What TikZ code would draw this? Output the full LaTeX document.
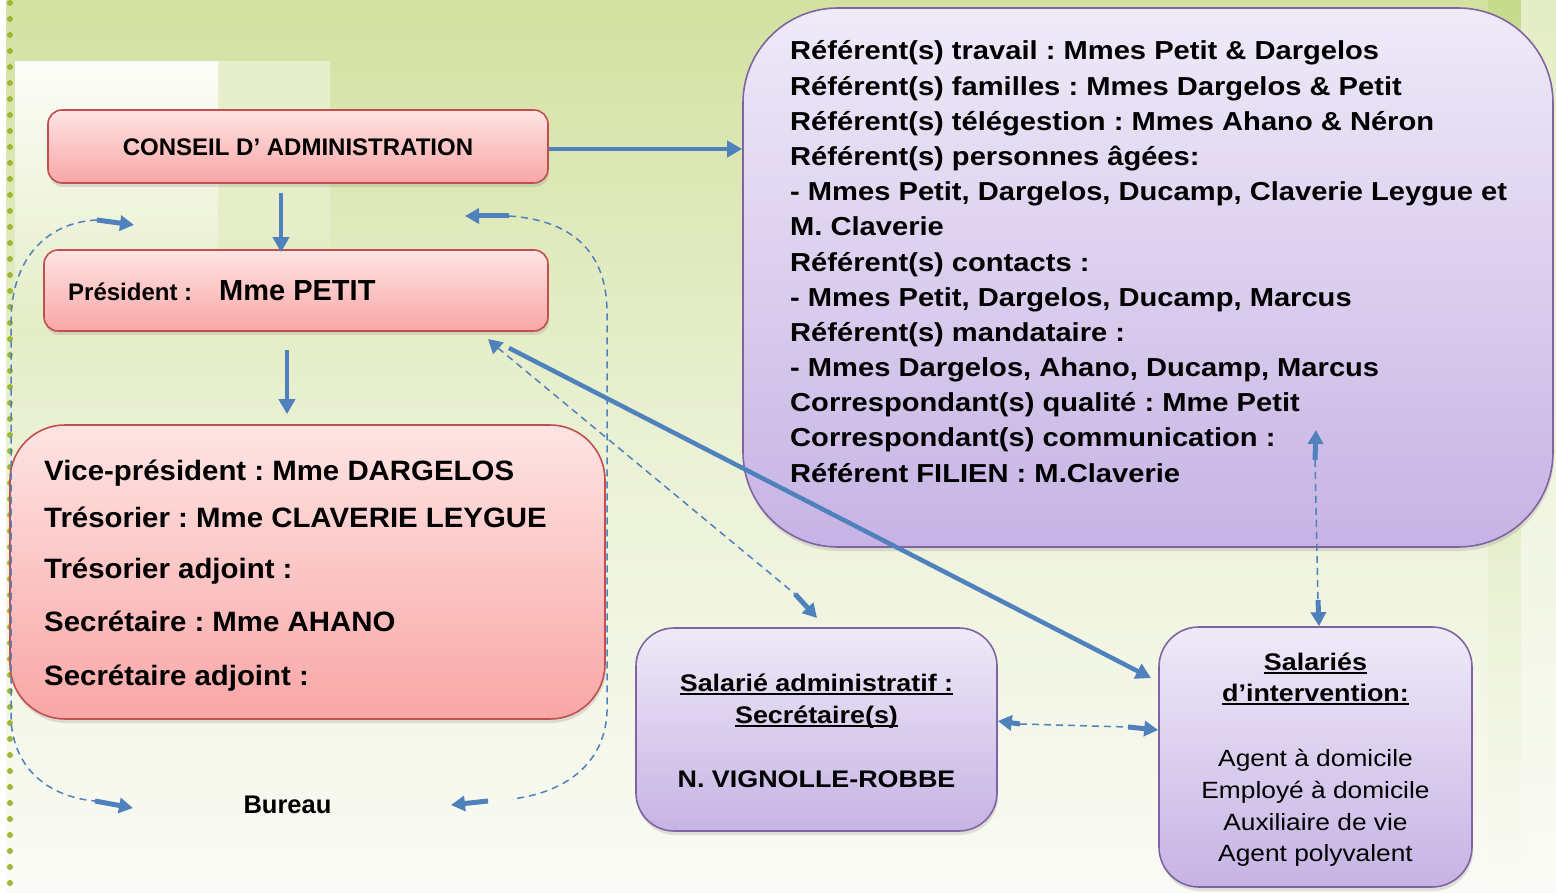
\documentclass[tikz,border=0pt]{standalone}
\usepackage{fontspec}
\setmainfont{Liberation Sans}
\newfontfamily\wsf[FakeStretch=1.12]{Liberation Sans}
\newfontfamily\nsf[FakeStretch=1.05]{Liberation Sans}
\frenchspacing
\usetikzlibrary{arrows.meta,shadows}
\definecolor{bgtop}{HTML}{D3E1A1}
\definecolor{bgmid}{HTML}{EBF1D5}
\definecolor{bgbot}{HTML}{FAFBF6}
\definecolor{bandgreen}{HTML}{C6DA8C}
\definecolor{pinktop}{HTML}{FEE4E4}
\definecolor{pinkbot}{HTML}{F9A6A6}
\definecolor{pinkline}{HTML}{C0504D}
\definecolor{purtop}{HTML}{EFEAF8}
\definecolor{purbot}{HTML}{C6B3E4}
\definecolor{purline}{HTML}{8064A2}
\definecolor{arrowblue}{HTML}{4F81BD}
\definecolor{dotgreen}{HTML}{9BB935}
\newcommand\myul[1]{\setbox0\hbox{#1}\rlap{\rule[-3.5pt]{\wd0}{1.8pt}}\box0}
\begin{document}
\begin{tikzpicture}[x=1pt,y=-1pt,
  pinkbox/.style={draw=pinkline, line width=1.6pt, top color=pinktop, bottom color=pinkbot,
    drop shadow={shadow xshift=1pt, shadow yshift=-4pt, opacity=0.22}, inner sep=0pt},
  purbox/.style={draw=purline, line width=1.6pt, top color=purtop, bottom color=purbot,
    drop shadow={shadow xshift=1pt, shadow yshift=-4pt, opacity=0.22}, inner sep=0pt},
  txt/.style={inner sep=0pt, font=\bfseries},
  solidarr/.style={draw=arrowblue, line width=4.5pt, -{Triangle[length=15pt,width=16pt]}},
  dashline/.style={draw=arrowblue, line width=1.5pt, dash pattern=on 7pt off 5pt},
  tipshaft/.style={draw=arrowblue, line width=5pt, -{Triangle[length=14pt,width=15pt]}}
]
\useasboundingbox (0,0) rectangle (1556,893);
% background
\colorlet{bgat}{bgmid!73!bgtop}
\shade[top color=bgtop, bottom color=bgmid] (0,0) rectangle (1556,450);
\shade[top color=bgmid, bottom color=bgbot] (0,450) rectangle (1556,893);
\shade[top color=bgtop!55!white, bottom color=bgat] (218,62) rectangle (330,330);
\shade[top color=white!92!bgtop, bottom color=bgat] (15,62) rectangle (218,330);
\shade[top color=bandgreen, bottom color=bgmid] (1488,0) rectangle (1521,600);
\shade[top color=bgmid, bottom color=bgbot] (1488,600) rectangle (1521,893);
\shade[top color=bgtop!60!white, bottom color=bgbot] (1521,0) rectangle (1556,893);
\fill[white] (0,0) rectangle (6,893);
\foreach \k in {0,...,55} \fill[dotgreen] (10,3+16*\k) circle (3pt);

% boxes
\node[pinkbox, rounded corners=14pt, minimum width=500pt, minimum height=73pt] (conseil) at (298,146.5) {};
\node[pinkbox, rounded corners=14pt, minimum width=504pt, minimum height=81pt] (pres) at (296,290.5) {};
\node[pinkbox, rounded corners=55pt, minimum width=595pt, minimum height=294pt] (bureau) at (307.5,572) {};
\node[purbox, rounded corners=95pt, minimum width=810pt, minimum height=539pt] (refbox) at (1148,277.5) {};
\node[purbox, rounded corners=38pt, minimum width=361pt, minimum height=203pt] (admin) at (816.5,729.5) {};
\node[purbox, rounded corners=40pt, minimum width=313pt, minimum height=260pt] (interv) at (1315.5,757) {};

% texts
\node[txt, anchor=base, font=\bfseries\fontsize{24}{28}\selectfont] (conseiltxt) at (298,156) {CONSEIL D’ ADMINISTRATION};
\node[txt, anchor=base west, font=\bfseries\fontsize{24}{28}\selectfont] (prestxt) at (68,301) {Président :};
\node[txt, anchor=base west, font=\bfseries\fontsize{29}{34}\selectfont] (presname) at (219,301) {Mme PETIT};
\node[txt, anchor=base west, font=\nsf\bfseries\fontsize{28}{34}\selectfont] (vp) at (44,480) {Vice-président : Mme DARGELOS};
\node[txt, anchor=base west, font=\nsf\bfseries\fontsize{28}{34}\selectfont] (tres) at (44,527) {Trésorier : Mme CLAVERIE LEYGUE};
\node[txt, anchor=base west, font=\nsf\bfseries\fontsize{28}{34}\selectfont] (tresadj) at (44,578) {Trésorier adjoint :};
\node[txt, anchor=base west, font=\nsf\bfseries\fontsize{28}{34}\selectfont] (sec) at (44,631) {Secrétaire : Mme AHANO};
\node[txt, anchor=base west, font=\nsf\bfseries\fontsize{28}{34}\selectfont] (secadj) at (44,685) {Secrétaire adjoint :};
\node[txt, anchor=base, font=\bfseries\fontsize{25.5}{30}\selectfont] (bureaulbl) at (287.5,813) {Bureau};

\foreach \t [count=\i] in {%
  {Référent(s) travail : Mmes Petit \& Dargelos},
  {Référent(s) familles : Mmes Dargelos \& Petit},
  {Référent(s) télégestion : Mmes Ahano \& Néron},
  {Référent(s) personnes âgées:},
  {- Mmes Petit, Dargelos, Ducamp, Claverie Leygue et},
  {M. Claverie},
  {Référent(s) contacts :},
  {- Mmes Petit, Dargelos, Ducamp, Marcus},
  {Référent(s) mandataire :},
  {- Mmes Dargelos, Ahano, Ducamp, Marcus},
  {Correspondant(s) qualité : Mme Petit},
  {Correspondant(s) communication :},
  {Référent FILIEN : M.Claverie}}
  \node[txt, anchor=base west, font=\wsf\bfseries\fontsize{26}{30}\selectfont] (ref\i) at (790,{60+35.17*(\i-1)}) {\t};

\node[txt, anchor=base, font=\wsf\bfseries\fontsize{24}{28}\selectfont] (admin1) at (816.5,691.7) {\myul{Salarié administratif :}};
\node[txt, anchor=base, font=\wsf\bfseries\fontsize{24}{28}\selectfont] (admin2) at (816.5,723.3) {\myul{Secrétaire(s)}};
\node[txt, anchor=base, font=\wsf\bfseries\fontsize{24}{28}\selectfont] (admin3) at (816.5,787.3) {N. VIGNOLLE-ROBBE};

\node[txt, anchor=base, font=\wsf\bfseries\fontsize{24}{28}\selectfont] (int1) at (1315.5,670) {\myul{Salariés}};
\node[txt, anchor=base, font=\wsf\bfseries\fontsize{24}{28}\selectfont] (int2) at (1315.5,701.7) {\myul{d’intervention:}};
\node[inner sep=0pt, anchor=base, font=\wsf\fontsize{23.5}{28}\selectfont] (int3) at (1315.5,766.7) {Agent à domicile};
\node[inner sep=0pt, anchor=base, font=\wsf\fontsize{23.5}{28}\selectfont] (int4) at (1315.5,798.3) {Employé à domicile};
\node[inner sep=0pt, anchor=base, font=\wsf\fontsize{23.5}{28}\selectfont] (int5) at (1315.5,830) {Auxiliaire de vie};
\node[inner sep=0pt, anchor=base, font=\wsf\fontsize{23.5}{28}\selectfont] (int6) at (1315.5,861.7) {Agent polyvalent};

% solid connectors
\draw[solidarr] ([yshift=-2.5pt]conseil.east) -- ([yshift=-2.5pt]conseil.east -| refbox.west);
\draw[solidarr] ([xshift=-17pt,yshift=-9pt]conseil.south) -- ([xshift=-17pt,yshift=-3pt]conseil.south |- pres.north);
\draw[solidarr] ([xshift=-9pt,yshift=-18pt]pres.south) -- ([xshift=-9pt,yshift=10pt]pres.south |- bureau.north);
\coordinate (diagA) at (509,348);
\coordinate (diagB) at (1151,678);
\draw[solidarr] (diagA) -- (diagB);

% dashed loop around the Bureau (left)
\coordinate (lA) at (97,220);
\coordinate (lAt) at (134,225);
\coordinate (lB) at (95,801);
\coordinate (lBt) at (133,808);
\draw[dashline] (lA) .. controls (50,222) and (12,255) .. (11,320) -- (11,720) .. controls (14,770) and (50,797) .. (lB);
\draw[tipshaft] (lA) -- (lAt);
\draw[tipshaft] (lB) -- (lBt);
% dashed loop (right)
\coordinate (rA) at (509,216);
\coordinate (rAt) at (465,216);
\coordinate (rB) at (488,801);
\coordinate (rBt) at (451,805);
\draw[dashline] (rA) .. controls (570,220) and (606,250) .. (607,310) -- (607,712) .. controls (605,760) and (570,792) .. (512,799);
\draw[tipshaft] (rA) -- (rAt);
\draw[tipshaft] (rB) -- (rBt);

% dashed diagonal president <-> admin
\coordinate (dA) at (498,348);
\coordinate (dAt) at (488,339);
\coordinate (dB) at (795,594);
\coordinate (dBt) at (817,618);
\draw[dashline] (dA) -- (dB);
\draw[tipshaft] (dA) -- (dAt);
\draw[tipshaft] (dB) -- (dBt);

% dashed admin <-> interv
\coordinate (hA) at (1020,724);
\coordinate (hB) at (1128,727);
\draw[dashline] (hA) -- (hB);
\draw[tipshaft] (hA) -- (admin.east |- 0,721);
\draw[tipshaft] (hB) -- (interv.west |- 0,730);

% dashed refbox <-> interv
\coordinate (vA) at (1315,460);
\coordinate (vB) at (1318,600);
\draw[dashline] (vA) -- (vB);
\draw[tipshaft] (vA) -- (1316,430);
\draw[tipshaft] (vB) -- (interv.north -| 1319,0);
\end{tikzpicture}
\end{document}
